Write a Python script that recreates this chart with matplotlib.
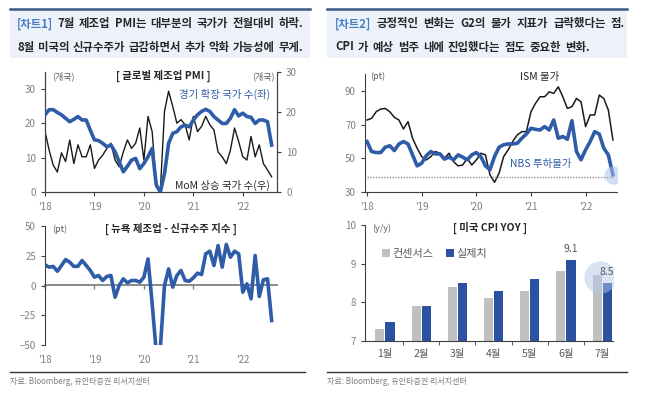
import matplotlib
matplotlib.use('Agg')
import matplotlib.pyplot as plt
from matplotlib.patches import Rectangle
from matplotlib.lines import Line2D
import numpy as np

plt.rcParams['font.family'] = ['Noto Sans CJK KR', 'DejaVu Sans']

"""
data
"""
year_ticks = ["'18", "'19", "'20", "'21", "'22"]

# global manufacturing PMI, Jan18 - Aug22
expand_cnt = [22.5, 24, 24, 23.2, 22.5, 21.5, 20.5, 21.2, 22, 21, 21, 18,
              15.2, 15, 14.2, 13.2, 13.7, 11.7, 8.8, 5.9, 7.5, 9.3, 9.8, 6.8,
              8.3, 10.3, 12.7, 2, 0, 5.4, 14.2, 17.1, 17.6, 19, 19.5, 19,
              21, 22.5, 23.5, 24.1, 23.5, 22, 21, 20, 20, 21.5, 24, 22.2,
              23, 22, 21.8, 20, 21, 21, 20.5, 13.7]
mom_up_cnt = [15.1, 10.5, 6.7, 5, 9.8, 7.6, 13, 7.1, 11.8, 8.8, 8.8, 11.8,
              5.9, 8, 9.2, 10.9, 12.2, 8, 6.3, 10, 13, 10.9, 12.2, 16,
              8, 18.9, 15.1, 2.1, 0.4, 20.2, 25.2, 21.4, 17.2, 18.1, 16.8, 13,
              18.9, 15.1, 16.4, 18.9, 16.8, 15.5, 10, 8.8, 7.1, 10.5, 16, 12.6,
              8.8, 8, 13.9, 8.8, 11.8, 7.1, 5.5, 3.8]

# empire state new orders, Jan18 - Aug22
ny_orders = [17.4, 15.4, 16.0, 12.0, 16.8, 21.8, 19.6, 16.0, 16.2, 21.0, 16.8, 12.6,
             7.0, 8.4, 4.2, 7.6, 8.4, -9.8, 0.0, 5.6, 2.2, 4.2, 4.2, 2.8,
             7.0, 22.4, -15, -56, -52, 0.0, 14, -1.4, 8.4, 12.6, 4.2, 3.6,
             6.4, 10.4, 9.2, 26.6, 28.8, 16.8, 33.6, 15.4, 34.5, 23.8, 28.8, 26.6,
             -5.6, 1.4, -11.2, 25.2, -9.2, 4.8, 5.6, -29.4]

# prices, Jan18 - Jul22
ism_price = [72.7, 73.7, 77.6, 79.2, 79.6, 77.6, 74.3, 72.7, 67.4, 71.7, 61.9, 56,
             51, 49, 51, 54, 53, 50, 53, 48, 45.5, 46, 50, 46,
             49, 53, 52, 40.2, 35.7, 41.2, 51, 55, 60, 63.9, 65.8, 65.8,
             77.6, 82.6, 86.5, 86.5, 89.4, 88.5, 92.4, 86.5, 79.6, 80.6, 85.5, 83.5,
             68.8, 75.7, 75.7, 87.5, 85.5, 78.6, 60.9]
nbs_price = [59.9, 54, 53.4, 53.4, 56.6, 57.4, 54.6, 58.5, 59.9, 58.5, 52, 45.5,
             47.1, 51.5, 54, 52.6, 52.6, 49.5, 50.7, 49.1, 52, 50.7, 49.1, 52,
             53.4, 51, 45.5, 43.2, 51, 56.6, 58, 58.5, 58.5, 58.9, 61.9, 64.4,
             67.8, 67.2, 66.8, 68.8, 66.8, 72.7, 61.9, 62.9, 61.3, 72.3, 54, 49.1,
             55, 59.9, 65.8, 64.4, 56, 52, 40.2]
nbs_ref = 39

# US CPI yoy
months = ['1월', '2월', '3월', '4월', '5월', '6월', '7월']
cpi_cons = [7.3, 7.9, 8.4, 8.1, 8.3, 8.8, 8.7]
cpi_act = [7.5, 7.9, 8.5, 8.3, 8.6, 9.1, 8.5]

"""
style
"""
W, H = 647, 395
BLUE = '#2E5CA8'
DARK = '#262626'
TICK = '#7f7f7f'
SPINE = '#404040'

fig = plt.figure(figsize=(W / 100, H / 100), dpi=100)


def box(l, t, r, b):
    return [l / W, 1 - b / H, (r - l) / W, (b - t) / H]


def ftext(x, y, s, **kw):
    kw.setdefault('va', 'center')
    return fig.text(x / W, 1 - y / H, s, **kw)


def justify(words, x0, x1, y, size=8.2):
    r = fig.canvas.get_renderer()
    ts = [ftext(0, y, w, color=c, fontsize=size, fontweight='bold') for w, c in words]
    widths = [t.get_window_extent(r).width for t in ts]
    gap = (x1 - x0 - sum(widths)) / (len(ts) - 1)
    x = x0
    for t, w in zip(ts, widths):
        t.set_x(x / W)
        x += w + gap


def style(ax):
    for s in ax.spines.values():
        s.set_color(SPINE)
        s.set_linewidth(0.8)
    ax.tick_params(labelsize=7, labelcolor=TICK, color=SPINE, length=3, width=0.8)
    ax.patch.set_visible(False)


"""
header boxes
"""
for x0, x1 in [(10, 310), (327, 627)]:
    fig.add_artist(Rectangle((x0 / W, 1 - 58 / H), (x1 - x0) / W, 49 / H,
                             transform=fig.transFigure, facecolor='#EDF2FA',
                             edgecolor='none', zorder=0))
    fig.add_artist(Line2D([x0 / W, x1 / W], [1 - 9 / H] * 2, color='#3B5B84', lw=1.8))

HB = '#4A7DC4'
justify([('[차트1]', HB), ('7월', DARK), ('제조업', DARK), ('PMI는', DARK), ('대부분의', DARK),
         ('국가가', DARK), ('전월대비', DARK), ('하락.', DARK)], 17, 303, 24)
justify([('8월', DARK), ('미국의', DARK), ('신규수주가', DARK), ('급감하면서', DARK), ('추가', DARK),
         ('악화', DARK), ('가능성에', DARK), ('무게.', DARK)], 17, 303, 47)
justify([('[차트2]', HB), ('긍정적인', DARK), ('변화는', DARK), ('G2의', DARK), ('물가', DARK),
         ('지표가', DARK), ('급락했다는', DARK), ('점.', DARK)], 335, 625, 24)
justify([('CPI', DARK), ('가', DARK), ('예상', DARK), ('범주', DARK), ('내에', DARK),
         ('진입했다는', DARK), ('점도', DARK), ('중요한', DARK), ('변화.', DARK)], 335, 590, 47)

"""
chart 1 top: global PMI
"""
ax1 = fig.add_axes(box(45, 72, 277, 192))
ax1b = ax1.twinx()
x56 = np.arange(len(expand_cnt))
ax1.plot(x56, expand_cnt, color=BLUE, lw=2.6, zorder=3)
ax1b.plot(np.arange(len(mom_up_cnt)), mom_up_cnt, color='#1a1a1a', lw=1.0)
ax1.set_zorder(ax1b.get_zorder() + 1)
ax1.set_ylim(0, 35)
ax1.set_yticks([0, 10, 20, 30])
ax1b.set_ylim(0, 30)
ax1b.set_yticks([0, 10, 20, 30])
ax1.set_xlim(0, 56.3)
ax1.set_xticks([0, 12, 24, 36, 48])
ax1.set_xticklabels(year_ticks)
for a in (ax1, ax1b):
    style(a)
    a.spines['top'].set_visible(False)
ax1.tick_params(axis='x', pad=4)

ftext(52, 76, '(개국)', fontsize=6.5, color='#595959')
ftext(275, 76, '(개국)', fontsize=6.5, color='#595959', ha='right')
ftext(163, 76, '[ 글로벌 제조업 PMI ]', fontsize=7.5, fontweight='bold', color=DARK, ha='center')
ftext(270, 94, '경기 확장 국가 수(좌)', fontsize=7.5, color=BLUE, ha='right')
ftext(270, 185, 'MoM 상승 국가 수(우)', fontsize=7.5, color=DARK, ha='right')

"""
chart 1 bottom: empire state new orders
"""
ax2 = fig.add_axes(box(45, 226, 277, 345))
ax2.plot(np.arange(len(ny_orders)), ny_orders, color=BLUE, lw=2.6)
ax2.set_ylim(-50, 50)
ax2.set_yticks([-50, -25, 0, 25, 50])
ax2.set_xlim(0, 56.3)
ax2.set_xticks([0, 12, 24, 36, 48])
ax2.set_xticklabels(year_ticks)
style(ax2)
for s in ['top', 'right', 'bottom']:
    ax2.spines[s].set_visible(False)
ax2.tick_params(axis='x', length=0, pad=7)
zero = ax2.secondary_xaxis(0.5)
zero.set_xticks([0, 12, 24, 36, 48])
zero.tick_params(direction='in', labeltop=False, length=3, color='#808080', width=1)
zero.spines['top'].set_color('#808080')
zero.spines['top'].set_linewidth(1.3)

ftext(52, 229, '(pt)', fontsize=6.5, color='#595959')
ftext(171, 229, '[ 뉴욕 제조업 - 신규수주 지수 ]', fontsize=7.5, fontweight='bold', color=DARK, ha='center')

"""
chart 2 top: ISM / NBS prices
"""
ax3 = fig.add_axes(box(365, 74, 617, 192))
x55 = np.arange(len(ism_price))
ax3.plot(x55, ism_price, color='#1a1a1a', lw=1.1)
ax3.plot(x55, nbs_price, color=BLUE, lw=2.6)
ax3.hlines(nbs_ref, 0, x55[-1], colors='#909090', linestyles=(0, (1, 1)), lw=1)
ax3.scatter([x55[-1]], [nbs_price[-1]], s=170, color='#A9C3E8', alpha=0.55, lw=0, zorder=5)
ax3.set_ylim(30, 100)
ax3.set_yticks([30, 50, 70, 90])
ax3.set_xlim(-0.45, 54.9)
ax3.set_xticks([0, 12, 24, 36, 48])
ax3.set_xticklabels(year_ticks)
style(ax3)
ax3.spines['top'].set_visible(False)
ax3.spines['right'].set_visible(False)
ax3.tick_params(axis='x', pad=4)

ftext(370, 76, '(pt)', fontsize=6.5, color='#595959')
ftext(520, 77, 'ISM 물가', fontsize=7.5, color=DARK)
ftext(510, 164, 'NBS 투하물가', fontsize=7.5, color=BLUE)

"""
chart 2 bottom: CPI
"""
ax4 = fig.add_axes(box(365, 225, 613, 341))
xm = np.arange(len(months))
ax4.bar(xm - 0.14, cpi_cons, 0.25, color='#C0C0C0', label='컨센서스')
ax4.bar(xm + 0.14, cpi_act, 0.25, color='#2A52A0', label='실제치')
for i in [5, 6]:
    ax4.text(xm[i] + 0.14, cpi_act[i] + 0.15, f'{cpi_act[i]:.1f}', ha='center', va='bottom',
             fontsize=7.5, color='#595959', zorder=6)
ax4.scatter([xm[-1] - 0.06], [(cpi_cons[-1] + cpi_act[-1]) / 2 + 0.05], s=540,
            color='#B4C8E8', alpha=0.5, lw=0, zorder=5)
ax4.set_ylim(7, 10)
ax4.set_yticks([7, 8, 9, 10])
ax4.set_xlim(-0.55, 6.3)
ax4.set_xticks(xm)
ax4.set_xticklabels(months)
ax4.set_xticks(xm[:-1] + 0.5, minor=True)
style(ax4)
ax4.spines['top'].set_visible(False)
ax4.spines['right'].set_visible(False)
ax4.tick_params(axis='x', which='major', length=0, pad=6, labelsize=7.5, labelcolor='#595959')
ax4.tick_params(axis='x', which='minor', length=3, color=SPINE)
ax4.legend(loc='upper left', bbox_to_anchor=(0.05, 0.83), ncol=2, frameon=False,
           fontsize=8, handlelength=0.7, handleheight=0.7, handletextpad=0.2,
           columnspacing=1.2, labelcolor='#595959', borderaxespad=0)

ftext(372, 228, '(y/y)', fontsize=6.5, color='#595959')
ftext(490, 228, '[ 미국 CPI YOY ]', fontsize=7.5, fontweight='bold', color=DARK, ha='center')

"""
footers
"""
for x0, x1 in [(10, 305), (327, 627)]:
    fig.add_artist(Line2D([x0 / W, x1 / W], [1 - 372 / H] * 2, color='#333333', lw=1))
    ftext(x0, 382, '자료: Bloomberg, 유안타증권 리서치센터', fontsize=5.8, color='#808080')

fig.savefig('out.png', dpi=100)
